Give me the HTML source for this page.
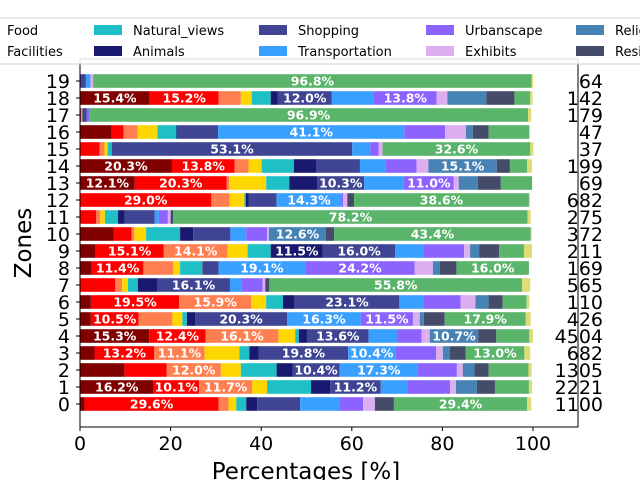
<!DOCTYPE html>
<html><head><meta charset="utf-8"><style>
body{margin:0;background:#fff;}
svg{display:block;font-family:"DejaVu Sans","Liberation Sans",sans-serif;}
</style></head><body>
<svg id="chart" width="640" height="480" viewBox="0 0 640 480" xmlns="http://www.w3.org/2000/svg">
<g id="bars"></g>
<g id="axes"></g>
<g id="legend"></g>
</svg>
<script>
const categories = ["Cat_a","Cat_b","Food","Facilities","Natural_views","Animals","Shopping","Transportation","Urbanscape","Exhibits","Religion","Residence","Cat_m","Cat_n"];
const colors = ["#800000","#ff0000","#ff7f50","#ffd700","#1fbfc6","#191970","#3f4592","#3aa0ff","#8c63ff","#dcaef0","#4682b4","#444c6a","#5ab46a","#dedc74"];
const zones = [0,1,2,3,4,5,6,7,8,9,10,11,12,13,14,15,16,17,18,19];
const counts = ["1100","2221","1305","682","4504","426","110","565","169","211","372","275","682","69","199","37","47","179","142","64"];
const values = [
 [1.0,29.6,2.2,1.7,2.2,2.4,9.5,8.6,5.3,2.6,0,4.2,29.4,0.9],
 [16.2,10.1,11.7,3.3,9.7,4.2,11.2,6.0,9.3,1.3,4.6,4.0,7.5,0.7],
 [9.8,9.3,12.0,4.4,7.9,3.5,10.4,17.3,8.6,1.3,2.6,3.1,8.8,0.7],
 [3.2,13.2,11.1,7.7,2.2,2.0,19.8,10.4,9.0,1.5,1.5,3.5,13.0,1.3],
 [15.3,12.4,16.1,3.7,0.8,1.8,13.6,6.4,5.3,1.8,10.7,4.0,7.3,0.8],
 [2.4,10.5,7.5,2.2,1.0,1.8,20.3,16.3,11.5,1.5,0.9,4.6,17.9,1.1],
 [2.4,19.5,15.9,3.3,3.7,2.6,23.1,5.3,8.2,3.3,2.9,3.1,5.3,0.6],
 [0,7.8,1.5,1.3,2.2,4.2,16.1,2.6,4.6,0.6,0,0.9,55.8,1.8],
 [2.6,11.4,6.6,1.5,4.9,0.1,3.5,19.1,24.2,4.0,1.5,3.7,16.0,0],
 [3.4,15.1,14.1,4.4,5.1,11.5,16.0,6.2,9.0,1.3,2.0,4.4,5.5,1.8],
 [7.4,4.0,0.6,2.6,7.5,2.9,8.2,3.5,4.6,0.4,12.6,1.8,43.4,0.2],
 [0,3.6,0.9,1.0,2.9,1.5,6.6,0.9,2.0,0.6,0,0.6,78.2,0.7],
 [0,29.0,4.0,3.3,0.3,0.6,6.2,14.3,0.4,0.9,0,1.5,38.6,0.2],
 [12.1,20.3,0.5,8.2,5.1,6.2,10.3,8.8,11.0,1.1,4.2,5.1,6.9,0],
 [20.3,13.8,3.1,2.9,7.1,4.9,9.7,5.7,6.8,2.6,15.1,2.9,3.8,1.1],
 [0,4.3,1.1,0.7,0.9,0,53.1,4.0,1.8,0.9,0,0,32.6,0.7],
 [7.0,2.6,3.1,4.4,4.2,0.2,9.0,41.1,9.0,4.6,1.5,3.5,9.0,0],
 [0.2,0.1,0,0.2,0,0,1.0,0,0.5,0,0,0,96.9,0.7],
 [15.4,15.2,4.9,2.4,4.2,1.5,12.0,9.3,13.8,2.4,8.6,6.2,3.5,0.5],
 [0,0,0,0,0,0,1.3,1.0,0,0.6,0,0,96.8,0.3]
];
const xTicks = [0,20,40,60,80,100];

const NS="http://www.w3.org/2000/svg";
const L=80,R=578,T=59,B=427;
const xScale=v=>L+v*(533-L)/100;
const yScale=z=>404-z*(404-81)/19;
const bh=13.6;
function mk(tag,attrs,parent){const e=document.createElementNS(NS,tag);for(const k in attrs)e.setAttribute(k,attrs[k]);parent.appendChild(e);return e;}
const gb=document.getElementById('bars');
zones.forEach((z,i)=>{
  let acc=0;
  values[i].forEach((v,j)=>{
    const x0=xScale(acc),x1=xScale(acc+v);
    const r=mk('rect',{x:x0,y:yScale(z)-bh/2,width:Math.max(0,x1-x0),height:bh,fill:colors[j]},gb);
    
    
    if(v>=10){
      const t=mk('text',{x:(x0+x1)/2,y:yScale(z)+4.5,'text-anchor':'middle','font-size':'12.5','font-weight':'bold',fill:'#fff'},gb);
      t.textContent=v.toFixed(1)+'%';
      
      
    }
    acc+=v;
  });
  const c=mk('text',{x:603,y:yScale(z)+7,'text-anchor':'end','font-size':'19',fill:'#000'},gb);
  c.textContent=counts[i];
  
  
  const yl=mk('text',{x:70,y:yScale(z)+7,'text-anchor':'end','font-size':'19',fill:'#000'},gb);
  yl.textContent=String(z);
  
  
  mk('line',{x1:76,x2:80,y1:yScale(z),y2:yScale(z),stroke:'#000'},gb);
});
const ga=document.getElementById('axes');
const fr=mk('rect',{x:L,y:T,width:R-L,height:B-T,fill:'none',stroke:'#000','stroke-width':1},ga);


xTicks.forEach(v=>{
  mk('line',{x1:xScale(v),x2:xScale(v),y1:B,y2:B+4,stroke:'#000'},ga);
  const t=mk('text',{x:xScale(v),y:B+23,'text-anchor':'middle','font-size':'19'},ga);
  t.textContent=v;
  
  
});
const xt=mk('text',{x:306,y:479,'text-anchor':'middle','font-size':'23'},ga);
xt.textContent='Percentages [%]';


const yt=mk('text',{x:0,y:0,'text-anchor':'middle','font-size':'23',transform:'translate(31,243) rotate(-90)'},ga);
yt.textContent='Zones';


// legend
const gl=document.getElementById('legend');
const lb=mk('rect',{x:-300,y:18,width:1300,height:46,fill:'#fff','fill-opacity':0.85,stroke:'#d0d0d0'},gl);


const colX=[-120,7,133,298,465,615,780];
categories.forEach((c,j)=>{
  const col=Math.floor(j/2),row=j%2;
  const px=colX[col],py=row?51:30;
  mk('rect',{x:px-39,y:py-5,width:28,height:10,fill:colors[j]},gl);
  const t=mk('text',{x:px,y:py+5,'font-size':'13'},gl);
  t.textContent=c;
  
  
});
</script>
</body></html>
